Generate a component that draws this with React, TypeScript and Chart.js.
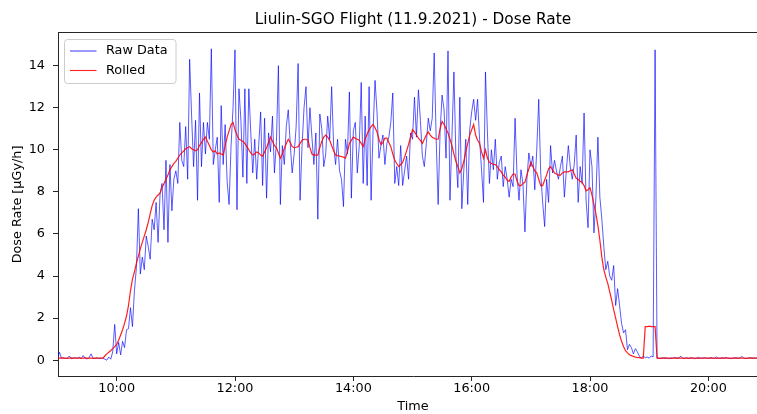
import React, { useEffect, useRef } from "react";
import { Chart, registerables } from "chart.js";

Chart.register(...registerables);

// time axis: minutes since midnight, one sample every STEP_MIN minutes starting at START_MIN
const START_MIN = 540;
const STEP_MIN = 2;
const X_MIN = 540.5;
const X_MAX = 1260.5;
const xTickValues = [600, 720, 840, 960, 1080, 1200];
const yTickValues = [0, 2, 4, 6, 8, 10, 12, 14];
const Y_MIN = -0.75;
const Y_MAX = 15.55;

const titleText = "Liulin-SGO Flight (11.9.2021) - Dose Rate";
const xLabel = "Time";
const yLabel = "Dose Rate [µGy/h]";
const seriesNames = ["Raw Data", "Rolled"];

const rawDose = [
  0.12, 0.38, 0.1, 0.12, 0.08, 0.1, 0.2, 0.07, 0.1, 0.12,
  0.09, 0.15, 0.08, 0.22, 0.1, 0.06, 0.12, 0.3, 0.1, 0.08,
  0.12, 0.07, 0.1, 0.09, 0.05, 0.0, 0.15, 0.05, 0.4, 1.7,
  0.3, 0.85, 0.25, 0.9, 0.6, 1.45, 1.5, 2.5, 1.6, 3.3,
  4.4, 7.2, 4.1, 4.9, 4.3, 5.9, 5.4, 4.8, 6.7, 6.2,
  7.5, 5.6, 7.9, 8.4, 6.2, 9.5, 5.6, 9.3, 7.1, 8.6,
  9.0, 8.4, 11.3, 9.5, 9.2, 11.1, 8.6, 14.3, 11.6, 9.2,
  11.4, 7.6, 12.7, 9.2, 11.3, 9.8, 11.3, 10.5, 14.8, 9.3,
  10.0, 10.6, 7.5, 12.1, 9.3, 11.2, 8.5, 7.4, 10.2, 12.0,
  14.75, 7.15, 12.9, 11.4, 8.7, 12.9, 8.4, 12.9, 10.8, 8.9,
  10.5, 8.6, 10.2, 11.8, 8.3, 11.5, 7.7, 10.8, 9.9, 11.6,
  8.9, 10.4, 14.0, 7.4, 10.2, 9.3, 11.1, 11.9, 10.3, 8.9,
  9.8, 11.1, 14.1, 7.6, 10.2, 12.0, 13.0, 10.1, 12.0, 10.6,
  9.3, 10.8, 6.7, 11.7, 11.0, 9.2, 9.8, 11.6, 10.5, 13.0,
  10.2, 9.3, 10.5, 9.0, 8.6, 7.3, 10.5, 9.8, 12.75, 7.7,
  10.9, 11.3, 8.9, 10.2, 13.2, 8.4, 11.6, 8.3, 13.0, 7.6,
  10.9, 13.3, 11.8, 9.6, 10.2, 10.7, 9.3, 10.3, 10.6, 11.3,
  12.7, 8.4, 9.2, 8.3, 10.2, 8.3, 9.0, 9.7, 8.6, 10.8,
  10.5, 12.5, 10.6, 12.85, 11.4, 9.7, 9.2, 10.3, 11.5, 10.9,
  11.5, 14.6, 10.5, 7.4, 10.9, 12.6, 11.9, 9.6, 14.7, 7.6,
  10.6, 13.7, 9.7, 8.2, 12.5, 7.2, 9.0, 10.5, 7.4, 10.95,
  11.8, 12.4, 11.4, 12.4, 10.5, 9.05, 7.5, 13.7, 10.8, 8.4,
  10.0, 9.05, 10.5, 8.6, 9.4, 9.7, 8.25, 9.2, 8.6, 7.75,
  8.6, 8.25, 11.5, 8.8, 7.6, 9.05, 8.4, 6.1, 8.6, 9.85,
  9.2, 9.7, 8.1, 10.0, 12.4, 8.9, 7.5, 6.35, 8.6, 7.5,
  10.2, 8.9, 9.5, 9.0, 8.6, 9.2, 9.7, 7.75, 9.0, 10.2,
  9.2, 8.6, 9.3, 10.7, 7.5, 9.2, 8.4, 11.75, 7.6,
  6.3, 10.0, 9.2, 6.05, 7.75, 10.6, 7.75, 6.7, 5.4, 4.3,
  4.7, 4.0, 3.8, 4.5, 2.6, 3.4, 2.6, 1.75, 1.3, 1.45,
  0.5, 0.75, 0.6, 0.3, 0.55, 0.4, 0.2, 0.1, 0.2, 0.12,
  0.15, 0.1, 0.2, 0.15, 14.75, 0.1, 0.08, 0.1, 0.12, 0.09,
  0.1, 0.07, 0.11, 0.1, 0.13, 0.08, 0.1, 0.2, 0.09, 0.1,
  0.12, 0.08, 0.1, 0.11, 0.07, 0.1, 0.14, 0.09, 0.1, 0.12,
  0.1, 0.08, 0.12, 0.1, 0.09, 0.16, 0.1, 0.08, 0.11, 0.1,
  0.13, 0.09, 0.1, 0.07, 0.12, 0.1, 0.09, 0.11, 0.18, 0.1,
  0.08, 0.1, 0.12, 0.09, 0.1, 0.11, 0.1, 0.08, 0.12, 0.1,
  0.09, 0.11, 0.1,
];

const rolledDose = [
  0.1, 0.1, 0.11, 0.1, 0.1, 0.09, 0.1, 0.11, 0.1, 0.1,
  0.1, 0.1, 0.09, 0.1, 0.11, 0.1, 0.1, 0.1, 0.09, 0.1,
  0.1, 0.1, 0.1, 0.1, 0.2, 0.3, 0.38, 0.46, 0.55, 0.65,
  0.75, 0.95, 1.2, 1.45, 1.75, 2.1, 2.6, 3.3, 3.85, 4.2,
  4.6, 4.95, 5.3, 5.6, 5.9, 6.2, 6.55, 6.95, 7.35, 7.6,
  7.75, 7.85, 7.95, 8.2, 8.4, 8.6, 8.8, 9.05, 9.2, 9.35,
  9.45, 9.6, 9.75, 9.85, 9.95, 10.05, 10.1, 10.15, 10.05, 10.0,
  9.95, 10.0, 10.2, 10.35, 10.5, 10.6, 10.4, 10.2, 10.0, 9.9,
  9.95, 9.8, 9.85, 9.8, 9.75, 10.2, 10.6, 10.9, 11.2, 11.3,
  10.95, 10.7, 10.5, 10.45, 10.4, 10.3, 10.15, 10.0, 9.85, 9.75,
  9.8, 9.9, 9.85, 9.75, 9.7, 9.9, 10.1, 10.35, 10.6, 10.4,
  10.2, 10.1, 9.85, 9.6, 9.8, 10.05, 10.3, 10.5, 10.35, 10.15,
  10.1, 10.12, 10.15, 10.3, 10.45, 10.5, 10.5, 10.45, 10.1, 9.8,
  9.75, 9.75, 9.75, 10.1, 10.4, 10.6, 10.7, 10.6, 10.45, 10.2,
  9.95, 9.75, 9.72, 9.7, 9.68, 9.65, 9.6, 9.9, 10.3, 10.45,
  10.6, 10.55, 10.5, 10.45, 10.3, 10.15, 10.5, 10.75, 10.95, 11.1,
  11.2, 11.05, 10.85, 10.5, 10.25, 10.35, 10.55, 10.55, 10.35, 10.15,
  9.8, 9.5, 9.35, 9.2, 9.3, 9.4, 9.65, 9.95, 10.25, 10.6,
  10.95, 10.85, 10.7, 10.55, 10.45, 10.3, 10.5, 10.7, 10.85, 10.7,
  10.6, 10.55, 10.5, 10.5, 11.0, 11.35, 11.2, 11.0, 10.8, 10.5,
  10.2, 9.8, 9.45, 9.2, 8.9, 9.1, 9.45, 9.9, 10.3, 10.7,
  10.95, 11.2, 10.7, 10.45, 10.3, 9.9, 9.6, 10.0, 9.6, 9.4,
  9.35, 9.3, 9.3, 9.2, 9.05, 8.95, 8.8, 8.7, 8.55, 8.5,
  8.7, 8.85, 8.85, 8.5, 8.3, 8.3, 8.4, 8.45, 8.8, 9.1,
  9.4, 9.2, 9.0, 8.9, 8.6, 8.3, 8.3, 8.55, 8.8, 9.1,
  9.2, 9.05, 8.9, 8.85, 8.8, 8.8, 8.9, 8.95, 8.95, 8.95,
  9.0, 9.05, 8.85, 8.65, 8.6, 8.5, 8.45, 8.3, 8.05,
  8.1, 8.2, 7.85, 7.4, 6.95, 6.4, 5.7, 4.9, 4.3, 3.95,
  3.65, 3.25, 2.85, 2.4, 2.0, 1.6, 1.2, 0.9, 0.65, 0.45,
  0.35, 0.26, 0.22, 0.18, 0.15, 0.13, 0.12, 0.1, 0.1, 1.6,
  1.6, 1.62, 1.6, 1.6, 1.6, 0.1, 0.1, 0.09, 0.1, 0.11,
  0.1, 0.1, 0.09, 0.1, 0.1, 0.11, 0.1, 0.1, 0.1, 0.09,
  0.1, 0.1, 0.11, 0.1, 0.1, 0.1, 0.09, 0.1, 0.1, 0.1,
  0.1, 0.1, 0.11, 0.1, 0.1, 0.09, 0.1, 0.1, 0.11, 0.1,
  0.1, 0.1, 0.09, 0.1, 0.1, 0.11, 0.1, 0.1, 0.1, 0.1,
  0.09, 0.1, 0.1, 0.11, 0.1, 0.1, 0.1, 0.1, 0.09, 0.1,
  0.1, 0.1, 0.1,
];

const FONT = "'DejaVu Sans', 'Liberation Sans', sans-serif";
const RAW_COLOR = "rgba(0, 0, 255, 0.72)";
const ROLLED_COLOR = "rgba(255, 0, 0, 0.88)";
const AXIS_COLOR = "#262626";

function fmtTime(m: number): string {
  const h = Math.floor(m / 60);
  const mm = Math.round(m % 60);
  return `${h}:${String(mm).padStart(2, "0")}`;
}

const toPoints = (vals: number[]) =>
  vals.map((y, i) => ({ x: START_MIN + i * STEP_MIN, y }));

const framePlugin = {
  id: "mplFrame",
  afterDraw(chart: any) {
    const { ctx, chartArea } = chart;
    const { left, right, top } = chartArea;
    ctx.save();
    ctx.strokeStyle = AXIS_COLOR;
    ctx.lineWidth = 1;
    ctx.beginPath();
    ctx.moveTo(left, Math.round(top) - 0.5);
    ctx.lineTo(right, Math.round(top) - 0.5);
    ctx.moveTo(Math.round(right) - 0.5, top);
    ctx.lineTo(Math.round(right) - 0.5, chartArea.bottom);
    ctx.stroke();
    ctx.restore();
  },
};

const legendPlugin = {
  id: "mplLegend",
  afterDraw(chart: any) {
    const { ctx, chartArea } = chart;
    const bx = chartArea.left + 6.5;
    const by = chartArea.top + 6.5;
    const bw = 111.5;
    const bh = 44;
    const r = 3;
    ctx.save();
    ctx.beginPath();
    ctx.moveTo(bx + r, by);
    ctx.lineTo(bx + bw - r, by);
    ctx.arcTo(bx + bw, by, bx + bw, by + r, r);
    ctx.lineTo(bx + bw, by + bh - r);
    ctx.arcTo(bx + bw, by + bh, bx + bw - r, by + bh, r);
    ctx.lineTo(bx + r, by + bh);
    ctx.arcTo(bx, by + bh, bx, by + bh - r, r);
    ctx.lineTo(bx, by + r);
    ctx.arcTo(bx, by, bx + r, by, r);
    ctx.closePath();
    ctx.fillStyle = "rgba(255,255,255,0.8)";
    ctx.fill();
    ctx.strokeStyle = "#cccccc";
    ctx.lineWidth = 1;
    ctx.stroke();

    const colors = [RAW_COLOR, ROLLED_COLOR];
    const rowsY = [by + 11.5, by + 31];
    ctx.font = `12.8px ${FONT}`;
    ctx.textAlign = "left";
    ctx.textBaseline = "middle";
    seriesNames.forEach((name, i) => {
      ctx.strokeStyle = colors[i];
      ctx.lineWidth = 1.1;
      ctx.beginPath();
      ctx.moveTo(bx + 5.5, rowsY[i]);
      ctx.lineTo(bx + 32, rowsY[i]);
      ctx.stroke();
      ctx.fillStyle = "#000";
      ctx.fillText(name, bx + 41.5, rowsY[i] - 0.3);
    });
    ctx.restore();
  },
};

export default function App() {
  const canvasRef = useRef<HTMLCanvasElement | null>(null);

  useEffect(() => {
    const canvas = canvasRef.current;
    if (!canvas) return;
    const chart = new Chart(canvas, {
      type: "line",
      data: {
        datasets: [
          {
            label: seriesNames[0],
            data: toPoints(rawDose),
            borderColor: RAW_COLOR,
            borderWidth: 0.9,
            pointRadius: 0,
            tension: 0,
            fill: false,
            order: 1,
          },
          {
            label: seriesNames[1],
            data: toPoints(rolledDose),
            borderColor: ROLLED_COLOR,
            borderWidth: 1.2,
            pointRadius: 0,
            tension: 0,
            fill: false,
            order: 0,
          },
        ],
      },
      options: {
        responsive: false,
        animation: false,
        events: [],
        layout: { padding: { left: 0, right: 0, top: 0, bottom: 0 } },
        plugins: {
          legend: { display: false },
          tooltip: { enabled: false },
          title: {
            display: true,
            text: titleText,
            color: "#000",
            fullSize: false,
            font: { family: FONT, size: 15.33, weight: "normal" },
            padding: { top: 11.3, bottom: 3.3 },
          },
        },
        scales: {
          x: {
            type: "linear",
            min: X_MIN,
            max: X_MAX,
            afterBuildTicks: (axis: any) => {
              axis.ticks = xTickValues.map((v) => ({ value: v }));
            },
            afterFit: (axis: any) => {
              axis.height = 38;
            },
            ticks: {
              color: "#000",
              font: { family: FONT, size: 12.8 },
              padding: 0,
              maxRotation: 0,
              autoSkip: false,
              callback: (v: any) => fmtTime(Number(v)),
            },
            grid: {
              display: true,
              drawOnChartArea: false,
              drawTicks: true,
              tickLength: 5,
              tickColor: AXIS_COLOR,
              tickWidth: 1,
            },
            border: { display: true, color: AXIS_COLOR, width: 1 },
            title: {
              display: true,
              text: xLabel,
              color: "#000",
              font: { family: FONT, size: 12.8 },
              padding: { top: 0, bottom: 0 },
            },
          },
          y: {
            type: "linear",
            min: Y_MIN,
            max: Y_MAX,
            afterBuildTicks: (axis: any) => {
              axis.ticks = yTickValues.map((v) => ({ value: v }));
            },
            afterFit: (axis: any) => {
              axis.width = 58;
            },
            ticks: {
              color: "#000",
              font: { family: FONT, size: 12.8 },
              padding: 8,
              autoSkip: false,
              callback: (v: any) => String(v),
            },
            grid: {
              display: true,
              drawOnChartArea: false,
              drawTicks: true,
              tickLength: 5,
              tickColor: AXIS_COLOR,
              tickWidth: 1,
            },
            border: { display: true, color: AXIS_COLOR, width: 1 },
            title: {
              display: true,
              text: yLabel,
              color: "#000",
              font: { family: FONT, size: 12.8 },
              padding: { top: 9.8, bottom: 0 },
            },
          },
        },
      },
      plugins: [framePlugin, legendPlugin],
    } as any);
    return () => chart.destroy();
  }, []);

  return (
    <div
      style={{
        position: "absolute",
        left: 0,
        top: 0,
        width: 757,
        height: 414,
        overflow: "hidden",
        background: "#fff",
      }}
    >
      <canvas ref={canvasRef} width={768} height={414} style={{ display: "block" }} />
    </div>
  );
}
